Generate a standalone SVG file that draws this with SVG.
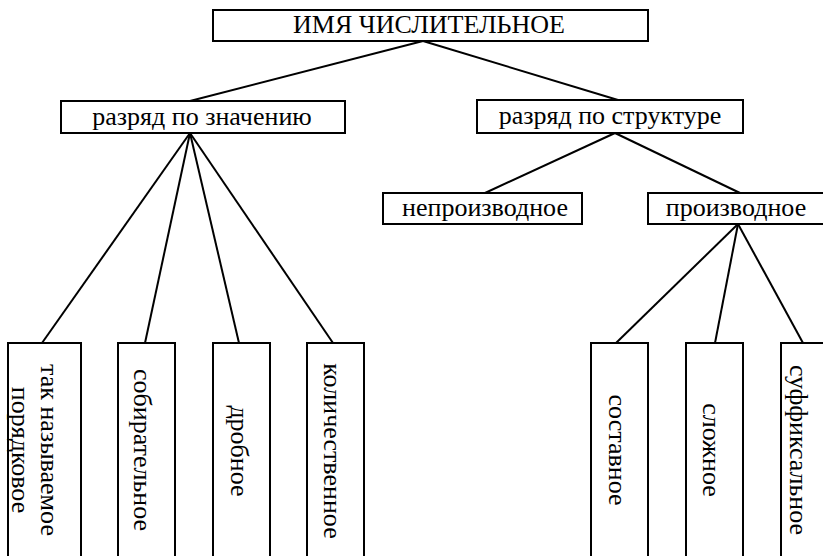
<svg xmlns="http://www.w3.org/2000/svg" width="823" height="556" viewBox="0 0 823 556">
<style>
.b{fill:#fff;stroke:#000;stroke-width:2}
line{stroke:#000;stroke-width:2}
text{font-family:'Liberation Serif','Times New Roman',serif;font-size:26px;fill:#000;text-anchor:middle}
</style>
<rect width="823" height="556" fill="#fff"/>
<g id="connectors">
<line x1="423" y1="41" x2="190" y2="101"/>
<line x1="423" y1="41" x2="618" y2="100"/>
<line x1="190" y1="133" x2="42" y2="343"/>
<line x1="190" y1="133" x2="145" y2="343"/>
<line x1="190" y1="133" x2="239" y2="343"/>
<line x1="190" y1="133" x2="333" y2="343"/>
<line x1="615" y1="133" x2="485" y2="193"/>
<line x1="615" y1="133" x2="740" y2="193"/>
<line x1="738" y1="224" x2="616" y2="343"/>
<line x1="738" y1="224" x2="715" y2="343"/>
<line x1="738" y1="224" x2="803" y2="343"/>
</g>
<g id="root"><rect class="b" x="213" y="10" width="435" height="31"/><text x="429" y="33">ИМЯ ЧИСЛИТЕЛЬНОЕ</text></g>
<g id="meaning"><rect class="b" x="61" y="101" width="284" height="32"/><text x="202" y="125">разряд по значению</text></g>
<g id="structure"><rect class="b" x="477" y="100" width="266" height="33"/><text x="610" y="124">разряд по структуре</text></g>
<g id="nonderived"><rect class="b" x="383" y="193" width="199" height="31"/><text x="485" y="216">непроизводное</text></g>
<g id="derived"><rect class="b" x="648" y="193" width="178" height="31"/><text x="736" y="216">производное</text></g>
<g id="ordinal"><rect class="b" x="8" y="343" width="73" height="220"/><text transform="translate(41,450) rotate(90)"><tspan x="0" y="0">так называемое</tspan><tspan x="0" y="29">порядковое</tspan></text></g>
<g id="collective"><rect class="b" x="118" y="343" width="57" height="220"/><text transform="translate(134,450) rotate(90)" x="0" y="0">собирательное</text></g>
<g id="fractional"><rect class="b" x="213" y="343" width="57" height="220"/><text transform="translate(231,451) rotate(90)" x="0" y="0">дробное</text></g>
<g id="cardinal"><rect class="b" x="307" y="343" width="57" height="220"/><text transform="translate(324,451) rotate(90)" x="0" y="0">количественное</text></g>
<g id="composite"><rect class="b" x="591" y="343" width="57" height="220"/><text transform="translate(609,450) rotate(90)" x="0" y="0">составное</text></g>
<g id="compound"><rect class="b" x="686" y="343" width="57" height="220"/><text transform="translate(703,450) rotate(90)" x="0" y="0">сложное</text></g>
<g id="suffixal"><rect class="b" x="781" y="343" width="57" height="220"/><text transform="translate(790,450) rotate(90)" x="0" y="0">суффиксальное</text></g>
</svg>
